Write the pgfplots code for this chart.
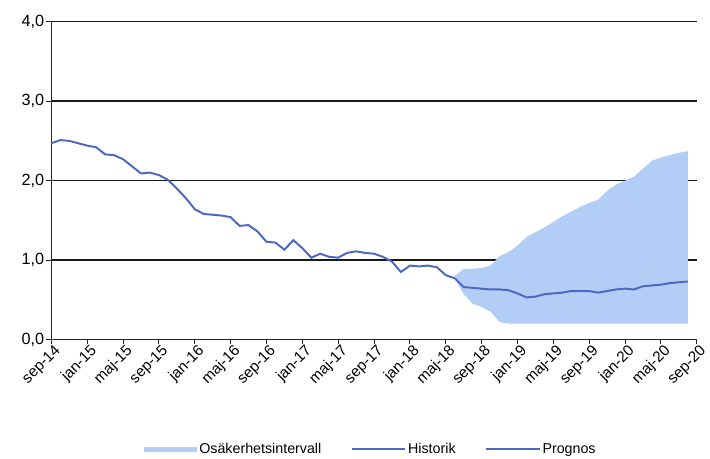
\documentclass[border=0pt]{standalone}
\usepackage{pgfplots}
\pgfplotsset{compat=1.18}
\usepgfplotslibrary{fillbetween}
\usepackage{fontspec}
\setmainfont{Liberation Sans}
\definecolor{linecol}{RGB}{78,104,194}
\definecolor{bandcol}{RGB}{178,206,246}
\begin{document}
\begin{tikzpicture}[x=1bp,y=1bp]
\begin{axis}[
  at={(52bp,116bp)}, anchor=south west,
  scale only axis, width=654bp, height=322bp,
  xmin=0, xmax=72, ymin=0, ymax=4,
  axis x line=bottom, axis y line=left,
  axis line style={-, line width=1.4pt, black!85},
  xtick={0,4,...,72},
  xticklabels={sep-14,jan-15,maj-15,sep-15,jan-16,maj-16,sep-16,jan-17,maj-17,sep-17,jan-18,maj-18,sep-18,jan-19,maj-19,sep-19,jan-20,maj-20,sep-20},
  xticklabel style={rotate=45, anchor=north east, font=\fontsize{15.5}{17}\selectfont, inner sep=1pt, xshift=3bp},
  ytick={0,1,2,3,4},
  yticklabel={\pgfmathprintnumber[fixed,fixed zerofill,precision=1,use comma]{\tick}},
  /pgf/number format/assume math mode=true,
  yticklabel style={font=\fontsize{16.5}{18}\selectfont, inner sep=2pt},
  tick align=outside, major tick length=5bp,
  tick style={black!85, line width=1pt},
  ymajorgrids, grid style={black!90, line width=1.4pt},
  clip=false,
  legend columns=3,
  legend style={draw=none, at={(0.495,-0.345)}, anchor=center, font=\fontsize{14.5}{16}\selectfont,
    /tikz/every even column/.append style={column sep=28bp}},
  legend image code/.code={\draw[#1] (0bp,0bp) -- (54bp,0bp);},
]
\addplot[name path=up, draw=none, forget plot] coordinates {
(45,0.80)(46,0.89)(47,0.89)(48,0.90)(49,0.93)(50,1.05)(51,1.10)(52,1.18)(53,1.29)(54,1.35)(55,1.41)(56,1.48)(57,1.55)(58,1.61)(59,1.67)(60,1.72)(61,1.76)(62,1.87)(63,1.95)(64,2.00)(65,2.05)(66,2.15)(67,2.25)(68,2.29)(69,2.32)(70,2.35)(71,2.37)};
\addplot[name path=lo, draw=none, forget plot] coordinates {
(45,0.77)(46,0.57)(47,0.45)(48,0.41)(49,0.35)(50,0.22)(51,0.20)(52,0.20)(53,0.20)(54,0.20)(55,0.20)(56,0.20)(57,0.20)(58,0.20)(59,0.20)(60,0.20)(61,0.20)(62,0.20)(63,0.20)(64,0.20)(65,0.20)(66,0.20)(67,0.20)(68,0.20)(69,0.20)(70,0.20)(71,0.20)};
\addplot[fill=bandcol, draw=none,
  legend image code/.code={\fill[bandcol] (0bp,-2.5bp) rectangle (54bp,2.5bp);}] fill between[of=up and lo];
\addlegendentry{Osäkerhetsintervall}
\addplot[linecol, line width=2pt] coordinates {
(0,2.47)(1,2.51)(2,2.50)(3,2.47)(4,2.44)(5,2.42)(6,2.33)(7,2.32)(8,2.27)(9,2.18)(10,2.09)(11,2.10)(12,2.07)(13,2.01)(14,1.90)(15,1.78)(16,1.64)(17,1.58)(18,1.57)(19,1.56)(20,1.54)(21,1.43)(22,1.44)(23,1.36)(24,1.23)(25,1.22)(26,1.13)(27,1.25)(28,1.15)(29,1.03)(30,1.08)(31,1.04)(32,1.03)(33,1.09)(34,1.11)(35,1.09)(36,1.08)(37,1.04)(38,0.98)(39,0.85)(40,0.93)(41,0.92)(42,0.93)(43,0.91)(44,0.81)(45,0.77)};
\addlegendentry{Historik}
\addplot[linecol, line width=2pt] coordinates {
(45,0.77)(46,0.66)(47,0.65)(48,0.64)(49,0.63)(50,0.63)(51,0.62)(52,0.58)(53,0.53)(54,0.54)(55,0.57)(56,0.58)(57,0.59)(58,0.61)(59,0.61)(60,0.61)(61,0.59)(62,0.61)(63,0.63)(64,0.64)(65,0.63)(66,0.67)(67,0.68)(68,0.69)(69,0.71)(70,0.72)(71,0.73)};
\addlegendentry{Prognos}
\end{axis}
\path (0,0) rectangle (710,460);
\end{tikzpicture}
\end{document}
